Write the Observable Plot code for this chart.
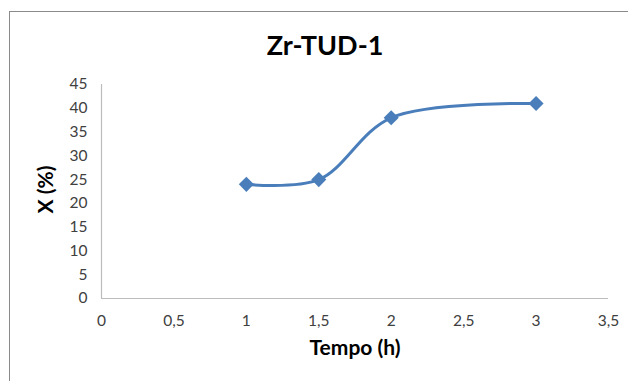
<!DOCTYPE html>
<html>
<head>
<meta charset="utf-8">
<script src="https://cdn.jsdelivr.net/npm/d3@7"></script>
<script src="https://cdn.jsdelivr.net/npm/@observablehq/plot@0.6"></script>
<style>
  html, body { margin: 0; padding: 0; background: #fff; }
  #wrap { position: relative; width: 628px; height: 381px; overflow: hidden; font-family: Lato, "Open Sans", sans-serif; }
  #frame { position: absolute; left: 9px; top: 11px; width: 700px; height: 500px; border: 1.5px solid #8a8a8a; box-sizing: border-box; }
  #title { position: absolute; left: 0; width: 650px; top: 27px; text-align: center; font-weight: bold; font-size: 27px; line-height: 36px; color: #000; }
  #chart { position: absolute; left: 0; top: 0; }
</style>
</head>
<body>
<div id="wrap">
  <div id="frame"></div>
  <div id="title">Zr-TUD-1</div>
  <div id="chart"></div>
</div>
<script>
const tempo = [1, 1.5, 2, 3];
const conversao = [24, 25, 38, 41];
const xTicks = [0, 0.5, 1, 1.5, 2, 2.5, 3, 3.5];
const yTicks = [0, 5, 10, 15, 20, 25, 30, 35, 40, 45];

const data = tempo.map((t, i) => ({t, x: conversao[i]}));
const fmt = d => String(d).replace(".", ",");

// square diamond symbol (equal width and height), like Excel's marker
const squareDiamond = {
  draw(context, size) {
    const h = Math.sqrt(size / 2);
    context.moveTo(0, -h);
    context.lineTo(h, 0);
    context.lineTo(0, h);
    context.lineTo(-h, 0);
    context.closePath();
  }
};

const plot = Plot.plot({
  width: 628,
  height: 381,
  marginLeft: 101,
  marginRight: 20,
  marginTop: 84,
  marginBottom: 83,
  style: { background: "transparent", fontFamily: "Lato, 'Open Sans', sans-serif", fontSize: "15.5px", color: "#404040" },
  x: { domain: [0, 3.5], ticks: xTicks, tickFormat: fmt, tickSize: 0, tickPadding: 16, label: null },
  y: { domain: [0, 45], ticks: yTicks, tickSize: 0, tickPadding: 14, label: null },
  marks: [
    Plot.ruleY([0], { stroke: "#bcbcbc", strokeWidth: 1.2 }),
    Plot.ruleX([0], { stroke: "#bcbcbc", strokeWidth: 1.2 }),
    Plot.line(data, { x: "t", y: "x", curve: "catmull-rom", stroke: "#4a7ebb", strokeWidth: 3 }),
    Plot.dot(data, { x: "t", y: "x", symbol: squareDiamond, r: 6, fill: "#4a7ebb", stroke: "none" }),
    Plot.text(["Tempo (h)"], { frameAnchor: "bottom", dy: 56, text: d => d, fontWeight: "bold", fontSize: 21, fill: "#000" }),
    Plot.text(["X (%)"], { frameAnchor: "left", dx: -55, dy: 22, rotate: -90, text: d => d, fontWeight: "bold", fontSize: 21, fill: "#000" })
  ]
});
document.getElementById("chart").appendChild(plot);
</script>
</body>
</html>
